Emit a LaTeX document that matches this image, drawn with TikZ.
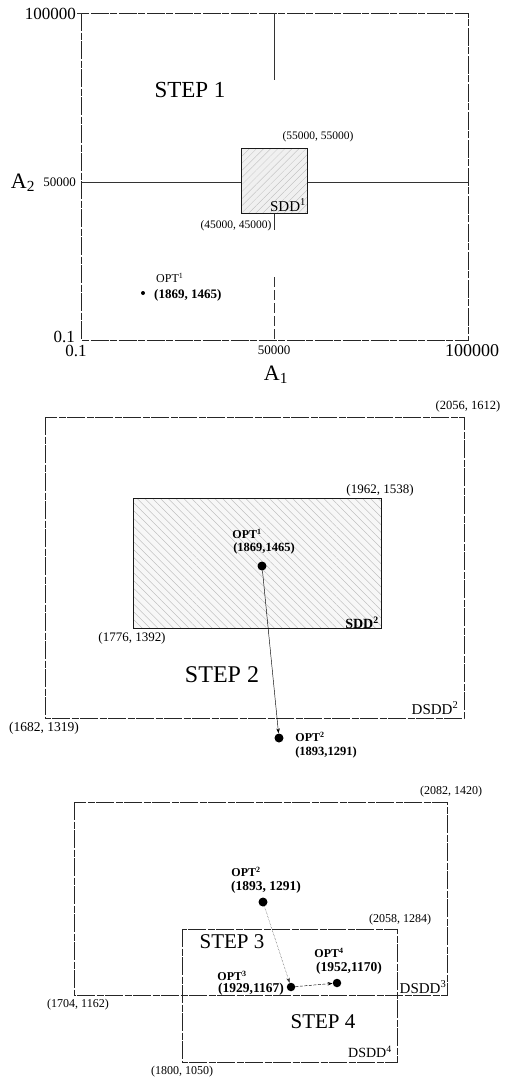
\documentclass[tikz,border=0pt]{standalone}
\usepackage{fontspec}
\setmainfont{Liberation Serif}
\usetikzlibrary{arrows.meta,patterns.meta}
\tikzset{
  fs/.style={font=\fontsize{#1}{#1}\selectfont},
  lbl/.style={inner sep=0pt, fs=#1},
  blbl/.style={inner sep=0pt, font=\bfseries\fontsize{#1}{#1}\selectfont},
  frameline/.style={draw=black!85, line width=0.5pt, dash pattern=on 18pt off 1.5pt on 7pt off 1.5pt},
  gridline/.style={draw=black!80, line width=0.45pt},
  boxline/.style={draw=black!90, line width=0.6pt},
  bigdot/.style={circle, fill=black, inner sep=0pt, minimum size=9pt},
  smalldot/.style={circle, fill=black, inner sep=0pt, minimum size=4pt},
  movearrow/.style={line width=0.45pt, -{Stealth[length=5pt,width=3.5pt]}},
}
\begin{document}
\begin{tikzpicture}[x=1pt,y=-1pt]
\useasboundingbox (0,0) rectangle (505,1077);

% ---------------- STEP 1 ----------------
\draw[frameline] (81.5,13) rectangle (468,340);
\draw[gridline] (77,13) -- (81.5,13);
\draw[gridline] (81.5,182) -- (241,182);
\draw[gridline] (307,182) -- (468,182);
\draw[gridline] (274,13) -- (274,80);
\draw[gridline] (274,213) -- (274,230);
\draw[gridline, dash pattern=on 10pt off 3pt] (274,277) -- (274,340);
\fill[gray!12] (241,148) rectangle (307,213);
\fill[pattern={Lines[angle=45,distance=5pt,line width=0.3pt]}, pattern color=gray!55] (241,148) rectangle (307,213);
\draw[boxline] (241,148) rectangle (307,213);

\node[lbl=17, anchor=east] (y100k) at (76,14) {100000};
\node[lbl=13, anchor=east] (y50k) at (76,182) {50000};
\node[lbl=22] (A2) at (23,183) {A\textsubscript{2}};
\node[lbl=17, anchor=east] (y01) at (75,337) {0.1};
\node[lbl=17] (x01) at (76,351) {0.1};
\node[lbl=13] (x50k) at (274,350) {50000};
\node[lbl=18] (x100k) at (472,351) {100000};
\node[lbl=22] (A1) at (276,375) {A\textsubscript{1}};

\node[lbl=23] (step1) at (190,90) {STEP 1};
\node[lbl=11.5] (c55) at (318,137) {(55000, 55000)};
\node[lbl=11.5] (c45) at (236,226) {(45000, 45000)};
\node[lbl=15] (sdd1) at (288,205) {SDD\textsuperscript{1}};
\node[smalldot] (o1a) at (143,293) {};
\node[lbl=12, anchor=west] (o1alab) at (156,278) {OPT\textsuperscript{1}};
\node[blbl=13, anchor=west] (o1aval) at (154,295) {(1869, 1465)};

% ---------------- STEP 2 ----------------
\draw[frameline] (45,417) rectangle (464,718);
\fill[gray!6] (133,498) rectangle (381,628);
\fill[pattern={Lines[angle=-45,distance=5.5pt,line width=0.35pt]}, pattern color=gray!60] (133,498) rectangle (381,628);
\draw[boxline] (133,498) rectangle (381,628);

\node[lbl=12.5] (c2056) at (468,406) {(2056, 1612)};
\node[lbl=13] (c1962) at (380,490) {(1962, 1538)};
\node[lbl=13] (c1776) at (132,638) {(1776, 1392)};
\node[blbl=14] (sdd2) at (362,623) {SDD\textsuperscript{2}};
\node[bigdot] (o1b) at (262,566) {};
\node[blbl=12] (o1blab) at (247,534) {OPT\textsuperscript{1}};
\node[blbl=12.5] (o1bval) at (264,548) {(1869,1465)};
\node[lbl=24] (step2) at (222,675) {STEP 2};
\node[lbl=15] (dsdd2) at (435,708) {DSDD\textsuperscript{2}};
\node[lbl=13.5] (c1682) at (44,728) {(1682, 1319)};
\node[bigdot] (o2b) at (279,738) {};
\node[blbl=12] (o2blab) at (310,737) {OPT\textsuperscript{2}};
\node[blbl=12.5] (o2bval) at (326,752) {(1893,1291)};
\draw[movearrow] (o1b) -- (o2b);

% ---------------- STEP 3 / 4 ----------------
\draw[frameline] (74,802) rectangle (447,995);
\draw[frameline] (182,929) rectangle (397,1062);
\node[lbl=12] (c2082) at (451,792) {(2082, 1420)};
\node[lbl=12] (c1704) at (78,1005) {(1704, 1162)};
\node[lbl=12] (c2058) at (400,920) {(2058, 1284)};
\node[lbl=12] (c1800) at (182,1072) {(1800, 1050)};
\node[lbl=21] (step3) at (232,942) {STEP 3};
\node[lbl=21] (step4) at (323,1022) {STEP 4};
\node[lbl=15] (dsdd3) at (423,987) {DSDD\textsuperscript{3}};
\node[lbl=14] (dsdd4) at (370,1052) {DSDD\textsuperscript{4}};

\node[bigdot] (o2c) at (263,902) {};
\node[blbl=12] (o2clab) at (246,872) {OPT\textsuperscript{2}};
\node[blbl=13.5] (o2cval) at (266,887) {(1893, 1291)};
\node[bigdot, minimum size=8.5pt] (o3) at (291,987) {};
\node[blbl=12] (o3lab) at (232,976) {OPT\textsuperscript{3}};
\node[blbl=13.5] (o3val) at (251,989) {(1929,1167)};
\node[bigdot, minimum size=8.5pt] (o4) at (337,983) {};
\node[blbl=12] (o4lab) at (329,953) {OPT\textsuperscript{4}};
\node[blbl=13.5] (o4val) at (349,968) {(1952,1170)};
\draw[movearrow, densely dotted, draw=black!80] (o2c) -- (o3);
\draw[movearrow, dash pattern=on 3pt off 1.5pt] (o3) -- (o4);
\end{tikzpicture}
\end{document}
